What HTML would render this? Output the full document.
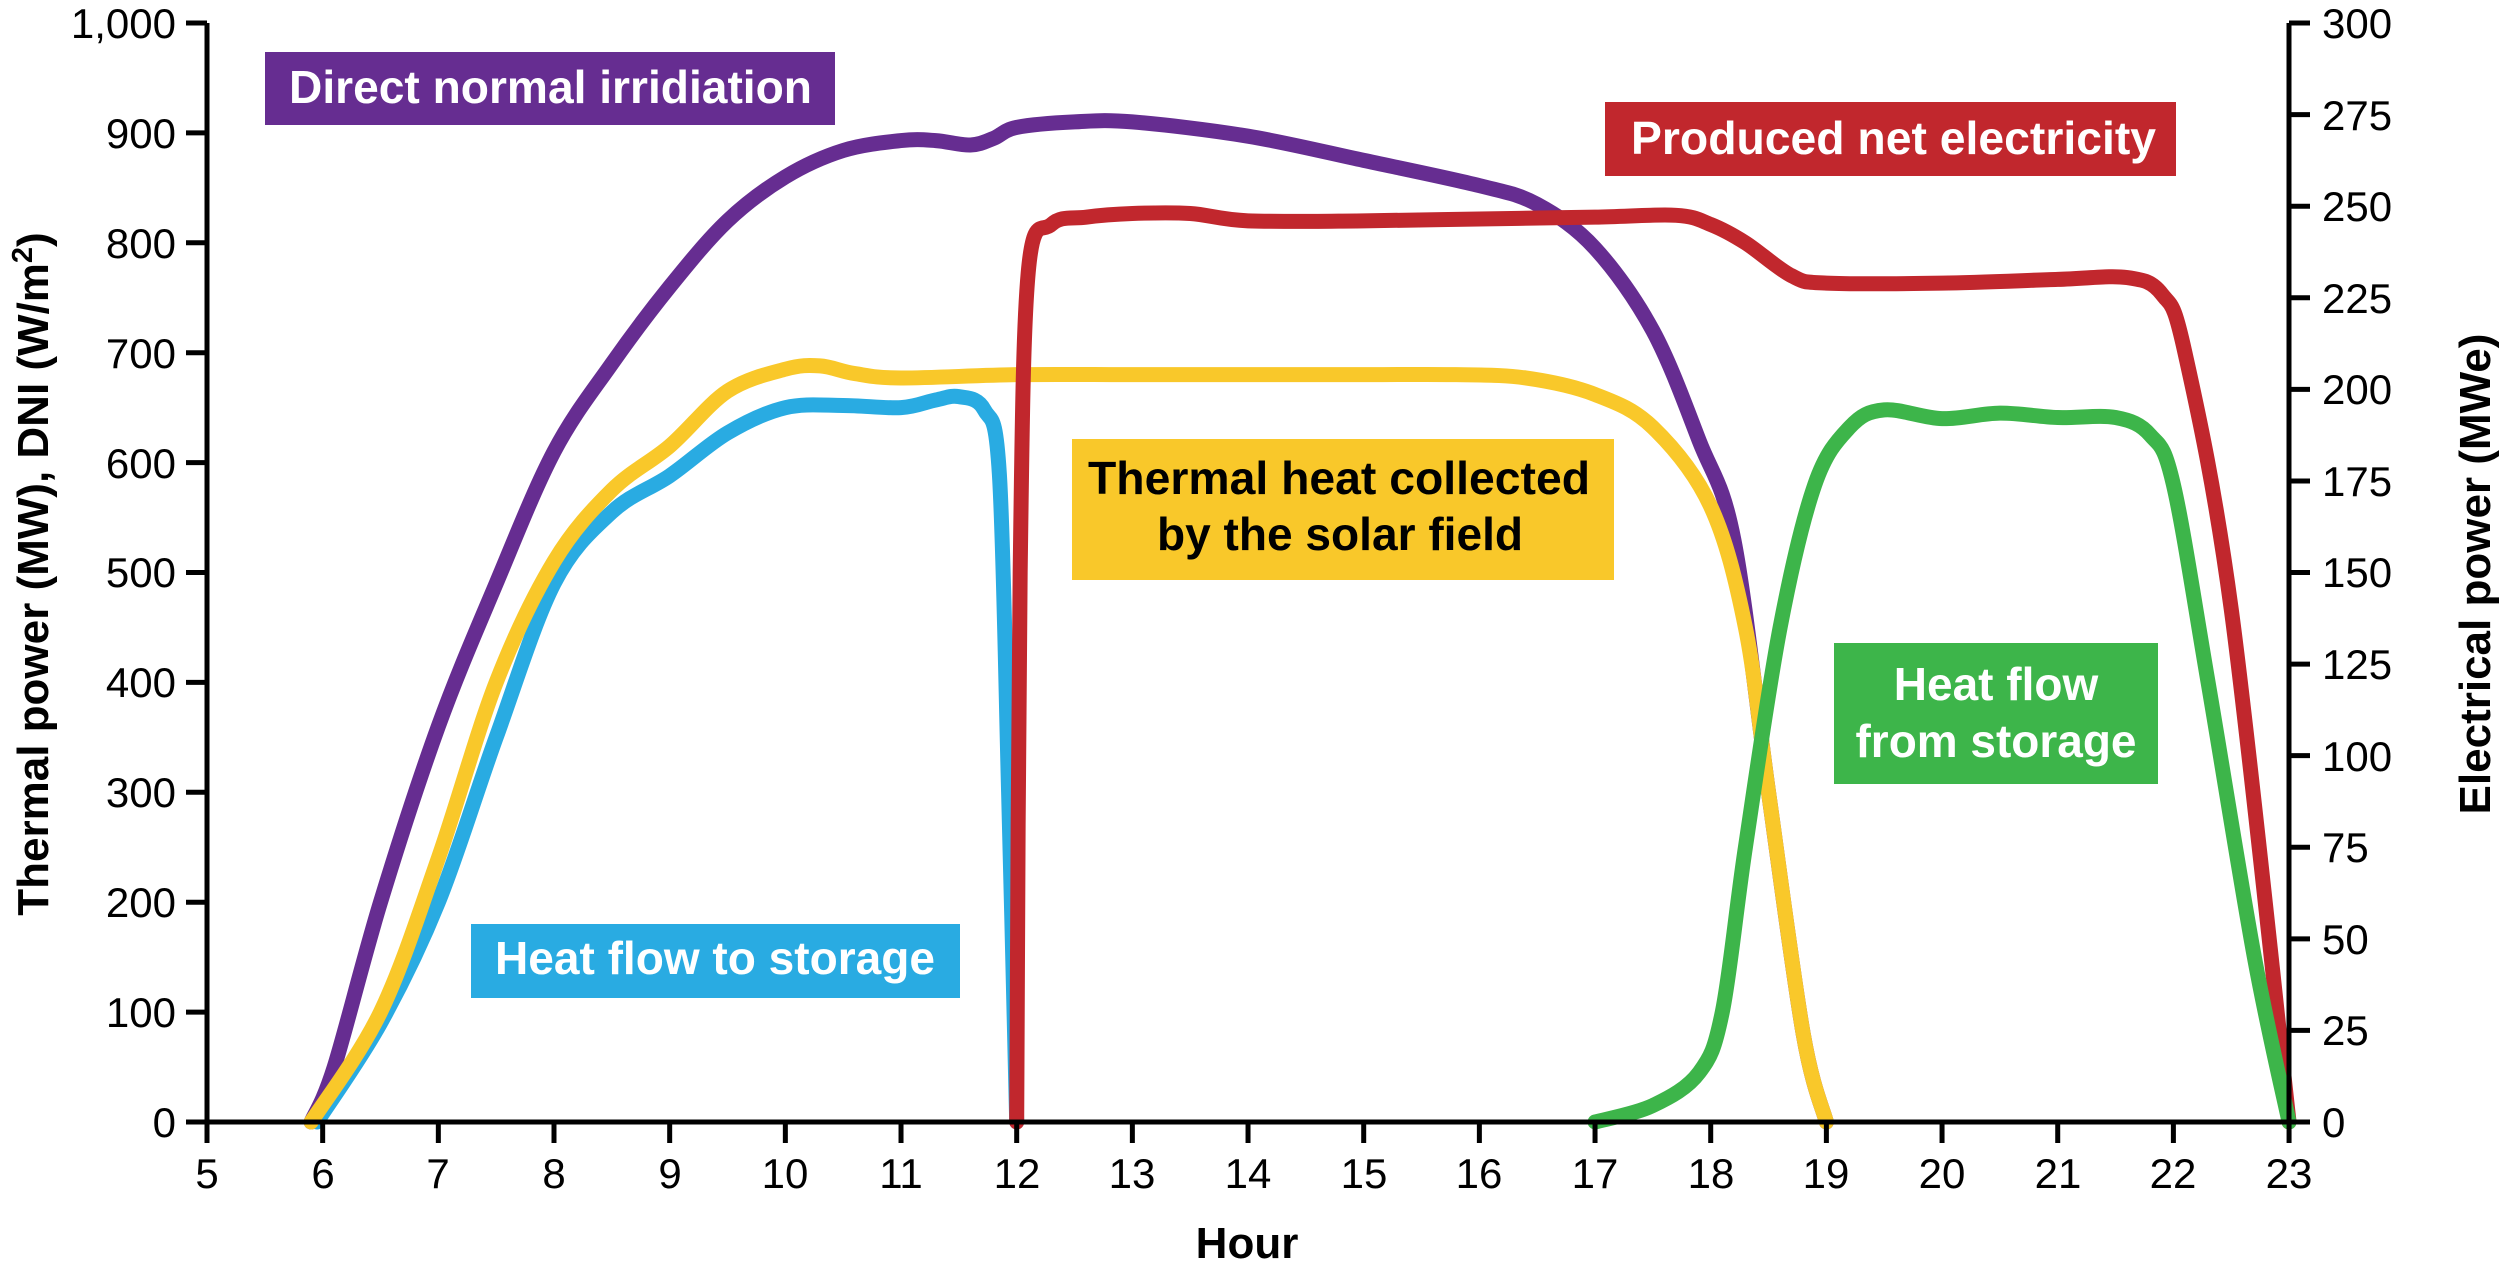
<!DOCTYPE html>
<html><head><meta charset="utf-8"><style>
html,body{margin:0;padding:0;background:#fff;}
svg{display:block;}
text{font-family:"Liberation Sans",Arial,sans-serif;}
</style></head><body>
<svg id="s" width="2500" height="1268" viewBox="0 0 2500 1268" xmlns="http://www.w3.org/2000/svg">
<g id="curves" fill="none" stroke-linecap="round" stroke-linejoin="round"></g>
<g stroke="#000" stroke-width="5" fill="none">
<line x1="207" y1="23" x2="207" y2="1124"/>
<line x1="2289" y1="23" x2="2289" y2="1124"/>
<line x1="186" y1="1122" x2="2310" y2="1122"/>
</g>
<g id="ticks" stroke="#000" stroke-width="5"></g>
<g font-size="42" fill="#000" text-anchor="end">
<text x="176" y="38">1,000</text><text x="176" y="148">900</text><text x="176" y="258">800</text><text x="176" y="368">700</text><text x="176" y="478">600</text><text x="176" y="587">500</text><text x="176" y="697">400</text><text x="176" y="807">300</text><text x="176" y="917">200</text><text x="176" y="1027">100</text><text x="176" y="1137">0</text>
</g>
<g font-size="42" fill="#000" text-anchor="start">
<text x="2322" y="38">300</text><text x="2322" y="130">275</text><text x="2322" y="221">250</text><text x="2322" y="313">225</text><text x="2322" y="404">200</text><text x="2322" y="496">175</text><text x="2322" y="587">150</text><text x="2322" y="679">125</text><text x="2322" y="771">100</text><text x="2322" y="862">75</text><text x="2322" y="954">50</text><text x="2322" y="1045">25</text><text x="2322" y="1137">0</text>
</g>
<g font-size="42" fill="#000" text-anchor="middle">
<text x="207" y="1188">5</text><text x="323" y="1188">6</text><text x="438" y="1188">7</text><text x="554" y="1188">8</text><text x="670" y="1188">9</text><text x="785" y="1188">10</text><text x="901" y="1188">11</text><text x="1017" y="1188">12</text><text x="1132" y="1188">13</text><text x="1248" y="1188">14</text><text x="1364" y="1188">15</text><text x="1479" y="1188">16</text><text x="1595" y="1188">17</text><text x="1711" y="1188">18</text><text x="1826" y="1188">19</text><text x="1942" y="1188">20</text><text x="2058" y="1188">21</text><text x="2173" y="1188">22</text><text x="2289" y="1188">23</text>
</g>
<text x="1247" y="1258" font-size="44" font-weight="bold" text-anchor="middle">Hour</text>
<text transform="translate(48,574) rotate(-90)" font-size="44" font-weight="bold" text-anchor="middle">Thermal power (MW), DNI (W/m<tspan dy="-16" font-size="29">2</tspan><tspan dy="16">)</tspan></text>
<text transform="translate(2490,574) rotate(-90)" font-size="44" font-weight="bold" text-anchor="middle">Electrical power (MWe)</text>
<rect x="265" y="52" width="570" height="73" fill="#662d91"/>
<text x="289" y="103" font-size="46" font-weight="bold" fill="#fff" textLength="523" lengthAdjust="spacingAndGlyphs">Direct normal irridiation</text>
<rect x="1605" y="102" width="571" height="74" fill="#c1272d"/>
<text x="1631" y="154" font-size="46" font-weight="bold" fill="#fff" textLength="525" lengthAdjust="spacingAndGlyphs">Produced net electricity</text>
<rect x="1072" y="439" width="542" height="141" fill="#f9c82a"/>
<text x="1088" y="494" font-size="46" font-weight="bold" fill="#000" textLength="502" lengthAdjust="spacingAndGlyphs">Thermal heat collected</text>
<text x="1157" y="550" font-size="46" font-weight="bold" fill="#000" textLength="366" lengthAdjust="spacingAndGlyphs">by the solar field</text>
<rect x="1834" y="643" width="324" height="141" fill="#3db54a"/>
<text x="1996" y="700" font-size="46" font-weight="bold" fill="#fff" text-anchor="middle">Heat flow</text>
<text x="1996" y="757" font-size="46" font-weight="bold" fill="#fff" text-anchor="middle" textLength="281" lengthAdjust="spacingAndGlyphs">from storage</text>
<rect x="471" y="924" width="489" height="74" fill="#29abe2"/>
<text x="495" y="974" font-size="46" font-weight="bold" fill="#fff" textLength="440" lengthAdjust="spacingAndGlyphs">Heat flow to storage</text>
</svg>
<script>
var X=function(h){return 207+115.67*(h-5);},Y=function(v){return 1122-1.099*v;};
var NS="http://www.w3.org/2000/svg";
var t=document.getElementById("ticks");
function ln(x1,y1,x2,y2){var l=document.createElementNS(NS,"line");l.setAttribute("x1",x1);l.setAttribute("y1",y1);l.setAttribute("x2",x2);l.setAttribute("y2",y2);t.appendChild(l);}
for(var i=0;i<=10;i++){ln(186,Y(i*100),207,Y(i*100));}
for(var i=0;i<=12;i++){var y=1122-i*91.58;ln(2289,y,2310,y);}
for(var h=5;h<=23;h++){ln(X(h),1122,X(h),1143);}
function path(pts,col,w){
 var p=pts.map(function(a){return [X(a[0]),Y(a[1])];});
 var d="M"+p[0][0]+","+p[0][1];
 for(var i=0;i<p.length-1;i++){
  var p0=p[i-1]||p[i],p1=p[i],p2=p[i+1],p3=p[i+2]||p2;
  var c1=[p1[0]+(p2[0]-p0[0])/6,p1[1]+(p2[1]-p0[1])/6];
  var c2=[p2[0]-(p3[0]-p1[0])/6,p2[1]-(p3[1]-p1[1])/6];
  d+=" C"+c1[0]+","+c1[1]+" "+c2[0]+","+c2[1]+" "+p2[0]+","+p2[1];
 }
 var e=document.createElementNS(NS,"path");e.setAttribute("d",d);e.setAttribute("stroke",col);e.setAttribute("stroke-width",w);
 document.getElementById("curves").appendChild(e);
}
var purple=[[5.9,0],[6.1,50],[6.5,200],[7,360],[7.5,490],[8,610],[8.5,690],[9,760],[9.5,820],[10,860],[10.5,884],[11,893],[11.3,893],[11.6,889],[11.8,895],[12,905],[12.5,910],[13,910],[14,897],[15,875],[16,852],[16.5,835],[17,795],[17.5,720],[17.9,620],[18.2,530],[18.5,300],[18.8,80],[19,0]];
var blue=[[5.95,0],[6.5,90],[7,200],[7.5,350],[8,490],[8.5,555],[9,588],[9.5,627],[10,650],[10.5,652],[11,650],[11.3,657],[11.5,660],[11.72,648],[11.85,590],[11.93,300],[12,0]];
var yellow=[[5.9,0],[6.5,100],[7,240],[7.5,400],[8,510],[8.5,575],[9,615],[9.5,665],[10,685],[10.3,688],[10.6,681],[11,677],[12,680],[13,680],[14,680],[15,680],[15.8,680],[16.4,677],[17,662],[17.5,632],[18,560],[18.3,450],[18.5,300],[18.8,80],[19,0]];
var red=[[12,0],[12.03,150],[12.1,232],[12.3,245],[12.6,247],[13,248],[13.5,248],[14,246],[15,246],[16,246.5],[17,247],[17.7,247.5],[18,245],[18.3,240],[18.7,231],[19,229],[20,229],[21,230],[21.6,230.5],[21.9,226],[22.1,210],[22.5,140],[23,0]].map(function(a){return [a[0],a[1]*10/3];});
var green=[[17,0],[17.5,15],[17.9,45],[18.1,100],[18.3,250],[18.6,450],[18.9,580],[19.2,632],[19.5,648],[20,640],[20.5,645],[21,641],[21.5,641],[21.8,625],[22,580],[22.3,400],[22.7,150],[23,0]];
path(purple,"#662d91",15);
path(blue,"#29abe2",15);
path(yellow,"#f9c82a",15);
path(red,"#c1272d",15);
path(green,"#3db54a",15);
</script>
</body></html>
